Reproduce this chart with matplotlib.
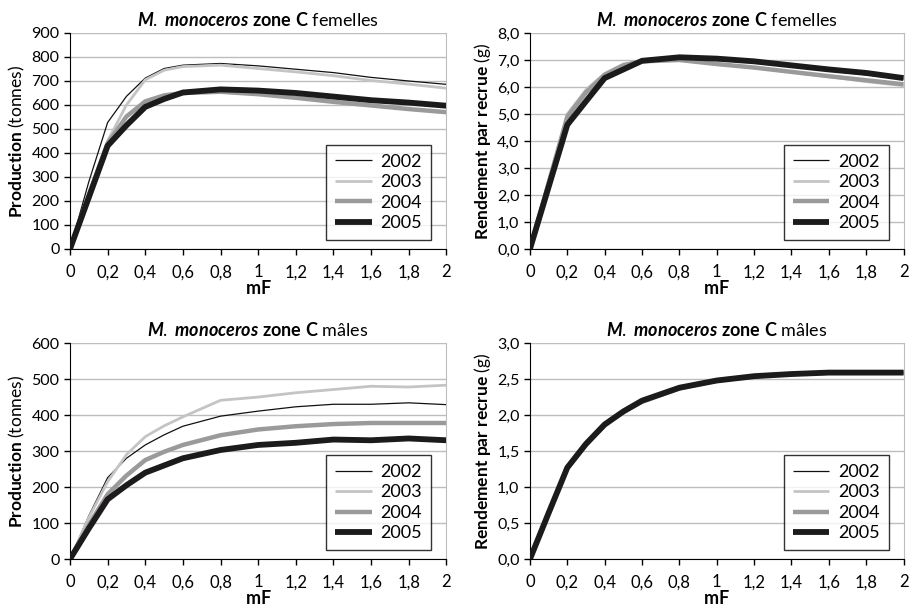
import numpy as np
import matplotlib
matplotlib.use("Agg")
from matplotlib import pyplot as plt
from matplotlib.ticker import FuncFormatter, MultipleLocator

plt.rcParams['font.family'] = ['Lato', 'DejaVu Sans']
plt.rcParams['mathtext.fontset'] = 'custom'
plt.rcParams['mathtext.rm'] = 'Lato'
plt.rcParams['mathtext.it'] = 'Lato:italic:bold'
plt.rcParams['mathtext.bf'] = 'Lato:bold'

years = ['2002', '2003', '2004', '2005']
mF = [0, 0.1, 0.2, 0.3, 0.4, 0.5, 0.6, 0.8, 1.0, 1.2, 1.4, 1.6, 1.8, 2.0]

# production femelles (tonnes)
prod_f = {
    '2002': [0, 280, 527, 636, 712, 752, 766, 773, 763, 749, 735, 715, 700, 686],
    '2003': [0, 230, 450, 600, 705, 745, 760, 766, 752, 738, 722, 702, 687, 670],
    '2004': [0, 225, 440, 552, 615, 640, 650, 655, 645, 630, 613, 598, 583, 570],
    '2005': [0, 215, 430, 515, 592, 625, 652, 665, 660, 650, 635, 620, 610, 597],
}
# rendement par recrue femelles (g)
rend_f = {
    '2002': [0, 2.5, 4.8, 5.8, 6.45, 6.8, 6.95, 7.08, 7.0, 6.9, 6.75, 6.6, 6.45, 6.3],
    '2003': [0, 2.5, 5.0, 5.9, 6.5, 6.85, 6.97, 7.0, 6.85, 6.72, 6.55, 6.38, 6.2, 6.05],
    '2004': [0, 2.45, 4.9, 5.8, 6.45, 6.8, 6.95, 7.0, 6.85, 6.72, 6.56, 6.4, 6.25, 6.1],
    '2005': [0, 2.3, 4.6, 5.47, 6.33, 6.65, 6.97, 7.1, 7.05, 6.95, 6.8, 6.65, 6.52, 6.33],
}
# production males (tonnes)
prod_m = {
    '2002': [0, 120, 226, 280, 317, 345, 369, 397, 411, 423, 430, 430, 434, 429],
    '2003': [0, 115, 215, 290, 340, 370, 395, 441, 450, 462, 471, 480, 478, 483],
    '2004': [0, 95, 180, 232, 275, 298, 317, 344, 360, 369, 375, 378, 378, 378],
    '2005': [0, 85, 166, 205, 240, 260, 280, 303, 317, 323, 332, 330, 335, 330],
}
# rendement par recrue males (g)
rend_m = {
    '2002': [0, 0.66, 1.29, 1.62, 1.88, 2.06, 2.2, 2.38, 2.48, 2.54, 2.57, 2.59, 2.59, 2.59],
    '2003': [0, 0.63, 1.25, 1.57, 1.84, 2.03, 2.17, 2.36, 2.47, 2.53, 2.56, 2.58, 2.58, 2.58],
    '2004': [0, 0.64, 1.27, 1.59, 1.86, 2.05, 2.19, 2.37, 2.48, 2.54, 2.57, 2.59, 2.59, 2.59],
    '2005': [0, 0.64, 1.27, 1.6, 1.87, 2.05, 2.2, 2.38, 2.48, 2.54, 2.57, 2.59, 2.59, 2.59],
}

colors = {'2002': '#111111', '2003': '#c4c4c4', '2004': '#9a9a9a', '2005': '#1c1a1a'}
widths = {'2002': 0.9, '2003': 2.0, '2004': 3.2, '2005': 4.2}


def comma(v, decimals):
    return f"{v:.{decimals}f}".replace('.', ',')


def xfmt(v, pos):
    if abs(v - round(v)) < 1e-9:
        return str(int(round(v)))
    return comma(v, 1)


def panel(ax, data, ymax, ystep, ydec, title, ylabel):
    for y in years:
        ax.plot(mF, data[y], color=colors[y], lw=widths[y], label=y,
                solid_joinstyle='round', solid_capstyle='butt', zorder=3)
    ax.set_xlim(0, 2)
    ax.set_ylim(0, ymax)
    ax.xaxis.set_major_locator(MultipleLocator(0.2))
    ax.yaxis.set_major_locator(MultipleLocator(ystep))
    ax.xaxis.set_major_formatter(FuncFormatter(xfmt))
    if ydec:
        ax.yaxis.set_major_formatter(FuncFormatter(lambda v, p: comma(v, ydec)))
    else:
        ax.yaxis.set_major_formatter(FuncFormatter(lambda v, p: str(int(round(v)))))
    ax.grid(axis='y', color='#bdbdbd', lw=1.0, zorder=0)
    ax.spines['top'].set_visible(False)
    ax.spines['right'].set_color('#bdbdbd')
    ax.spines['left'].set_color('black')
    ax.spines['bottom'].set_color('black')
    ax.tick_params(direction='out', length=4, width=1, labelsize=11.5,
                   colors='black')
    ax.tick_params(axis='x', labelsize=12, pad=7)
    ax.set_title(title, fontsize=13, pad=5)
    ax.set_ylabel(ylabel, fontsize=12.5, labelpad=3)
    ax.set_xlabel(r'$\mathbf{mF}$', fontsize=13, labelpad=-1)
    leg = ax.legend(loc='lower right', bbox_to_anchor=(0.96, 0.04),
                    fontsize=13, frameon=True, fancybox=False,
                    handlelength=2.0, handletextpad=0.5, labelspacing=0.25,
                    borderpad=0.5, borderaxespad=0)
    leg.get_frame().set_edgecolor('black')
    leg.get_frame().set_linewidth(1.0)


fig = plt.figure(figsize=(9.09, 6.11), dpi=100)
ax1 = fig.add_axes([0.077, 0.5925, 0.414, 0.3535])
ax2 = fig.add_axes([0.583, 0.5925, 0.411, 0.3535])
ax3 = fig.add_axes([0.077, 0.085, 0.414, 0.3535])
ax4 = fig.add_axes([0.583, 0.085, 0.411, 0.3535])

t_f = r'$\mathit{M.\ monoceros}$ $\mathbf{zone\ C}$ femelles'
t_m = r'$\mathit{M.\ monoceros}$ $\mathbf{zone\ C}$ mâles'
yl_p = r'$\mathbf{Production}$ (tonnes)'
yl_r = r'$\mathbf{Rendement\ par\ recrue}$ (g)'

panel(ax1, prod_f, 900, 100, 0, t_f, yl_p)
panel(ax2, rend_f, 8, 1, 1, t_f, yl_r)
panel(ax3, prod_m, 600, 100, 0, t_m, yl_p)
panel(ax4, rend_m, 3, 0.5, 1, t_m, yl_r)

fig.savefig('out.png', dpi=100)
